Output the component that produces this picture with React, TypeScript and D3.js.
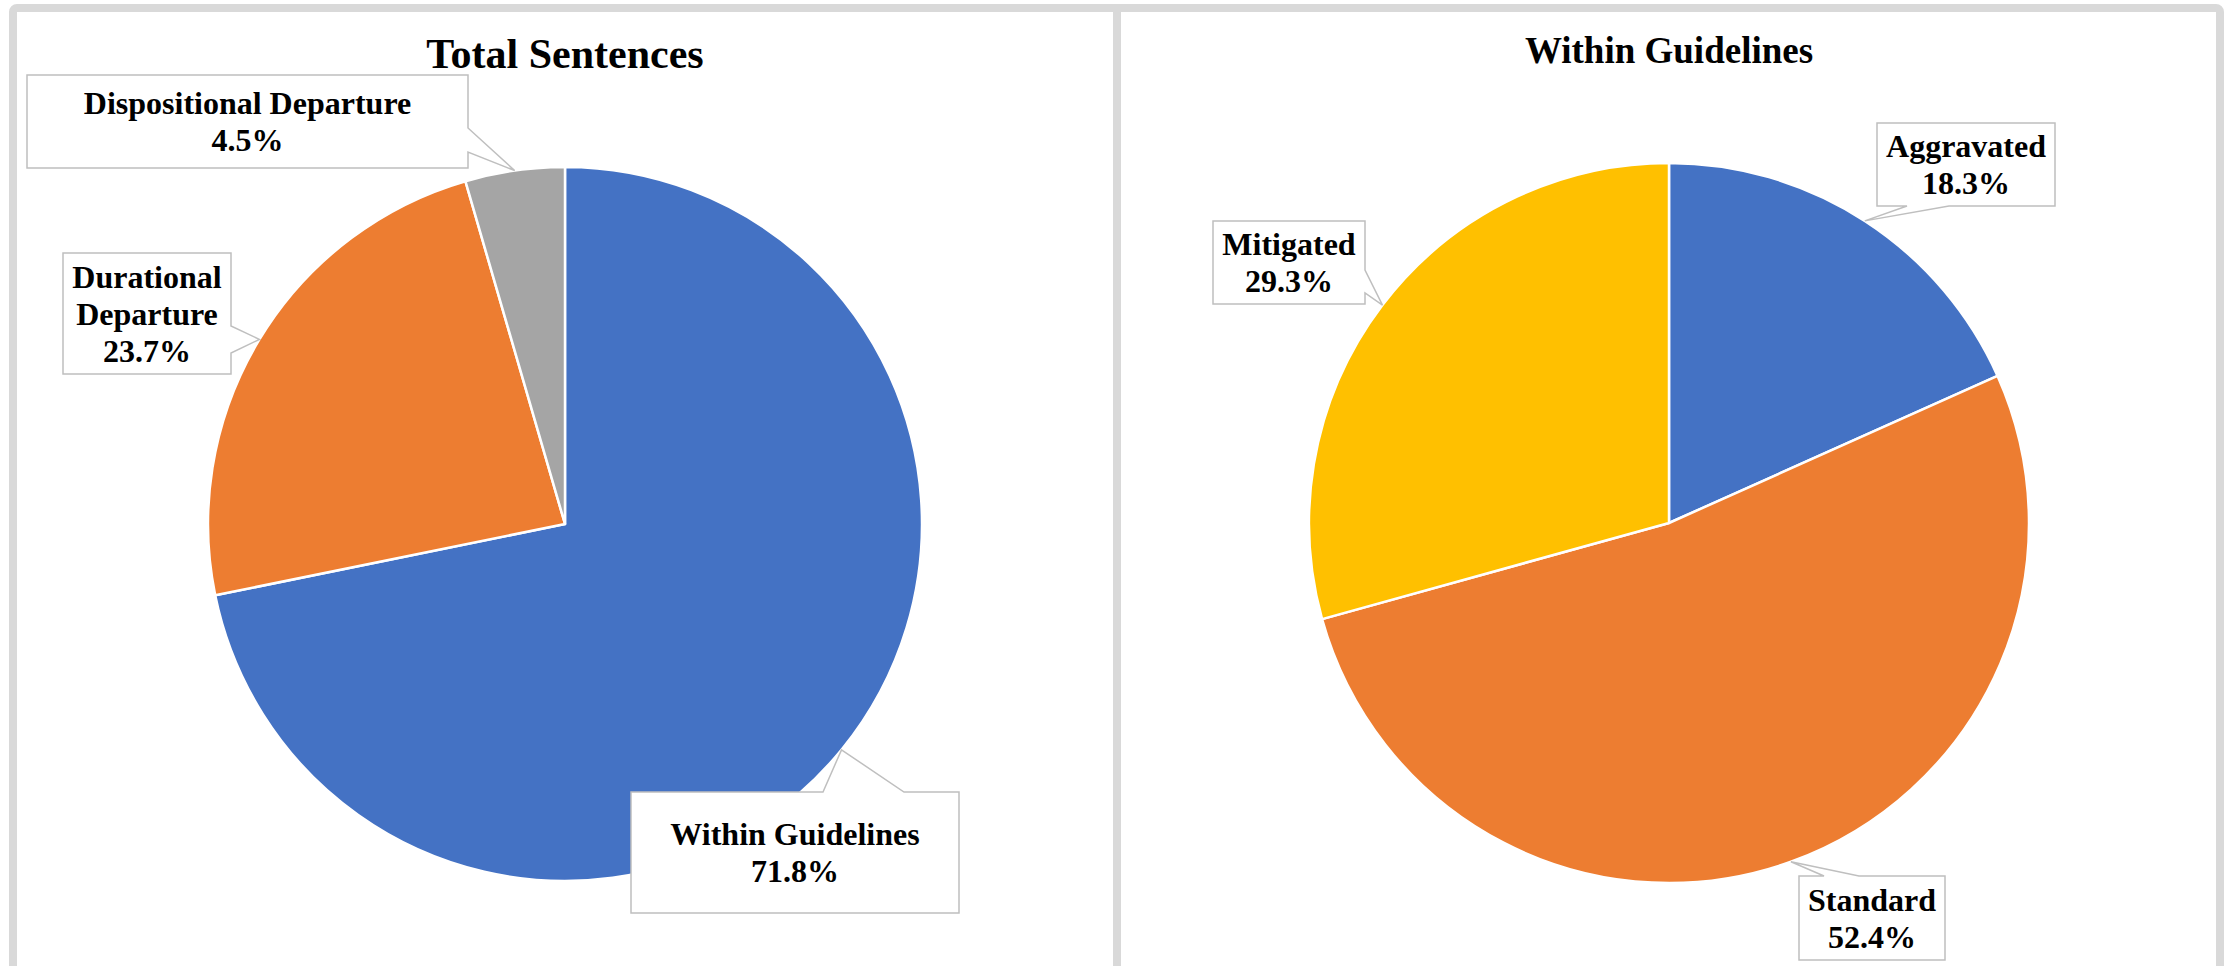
import React from 'react';
import * as d3 from 'd3';

// chart data
const totalCategories = ['Within Guidelines', 'Durational Departure', 'Dispositional Departure'];
const totalValues = [71.8, 23.7, 4.5];
const totalColors = ['#4472C4', '#ED7D31', '#A5A5A5'];

const withinCategories = ['Aggravated', 'Standard', 'Mitigated'];
const withinValues = [18.3, 52.4, 29.3];
const withinColors = ['#4472C4', '#ED7D31', '#FFC000'];

const WIDTH = 2233;
const HEIGHT = 966;
const FONT = '"Liberation Serif", "Times New Roman", serif';

type Side = 'top' | 'right' | 'bottom';
interface Callout {
  box: { x: number; y: number; w: number; h: number };
  side: Side;
  base: [number, number];
  wrap?: boolean;
}

// callout boxes (layout only, tips come from the arcs)
const totalCallouts: Callout[] = [
  { box: { x: 631, y: 792, w: 328, h: 121 }, side: 'top', base: [823, 904] },
  { box: { x: 63, y: 253, w: 168, h: 121 }, side: 'right', base: [326, 353], wrap: true },
  { box: { x: 27, y: 75, w: 441, h: 93 }, side: 'right', base: [128, 152] },
];
const withinCallouts: Callout[] = [
  { box: { x: 1877, y: 123, w: 178, h: 83 }, side: 'bottom', base: [1907, 1949] },
  { box: { x: 1799, y: 876, w: 146, h: 84 }, side: 'top', base: [1824, 1859] },
  { box: { x: 1213, y: 221, w: 152, h: 83 }, side: 'right', base: [270, 293] },
];

const calloutPath = (c: Callout, tip: [number, number]): string => {
  const { x, y, w, h } = c.box;
  const x1 = x + w;
  const y1 = y + h;
  const [a0, a1] = c.base;
  const [tx, ty] = tip;
  if (c.side === 'top') {
    return `M${x},${y}L${a0},${y}L${tx},${ty}L${a1},${y}L${x1},${y}L${x1},${y1}L${x},${y1}Z`;
  }
  if (c.side === 'right') {
    return `M${x},${y}L${x1},${y}L${x1},${a0}L${tx},${ty}L${x1},${a1}L${x1},${y1}L${x},${y1}Z`;
  }
  return `M${x},${y}L${x1},${y}L${x1},${y1}L${a1},${y1}L${tx},${ty}L${a0},${y1}L${x},${y1}Z`;
};

interface PieProps {
  categories: string[];
  values: number[];
  colors: string[];
  callouts: Callout[];
  cx: number;
  cy: number;
  radius: number;
  title: string;
  titleSize: number;
  titleY: number;
}

const PiePanel: React.FC<PieProps> = ({
  categories, values, colors, callouts, cx, cy, radius, title, titleSize, titleY
}) => {
  const pie = d3.pie<number>().sort(null).value(d => d);
  const arcs = pie(values);
  const arc = d3.arc<d3.PieArcDatum<number>>().innerRadius(0).outerRadius(radius);
  const edge = d3.arc<d3.PieArcDatum<number>>().innerRadius(radius).outerRadius(radius);
  const lineH = 37;

  return (
    <g>
      <text x={cx} y={titleY} textAnchor="middle" fontFamily={FONT} fontWeight="bold"
        fontSize={titleSize} fill="#000">{title}</text>
      <g transform={`translate(${cx},${cy})`}>
        {arcs.map((a, i) => (
          <path key={i} d={arc(a) || ''} fill={colors[i]} stroke="#fff" strokeWidth={2.5}
            strokeLinejoin="round" />
        ))}
      </g>
      {arcs.map((a, i) => {
        const c = callouts[i];
        const [ex, ey] = edge.centroid(a);
        const tip: [number, number] = [cx + ex, cy + ey];
        const name = categories[i];
        const lines = [...(c.wrap ? name.split(' ') : [name]), `${values[i].toFixed(1)}%`];
        const mx = c.box.x + c.box.w / 2;
        const my = c.box.y + c.box.h / 2;
        const first = my - ((lines.length - 1) * lineH) / 2 + 11;
        return (
          <g key={`c${i}`}>
            <path d={calloutPath(c, tip)} fill="#fff" stroke="#BFBFBF" strokeWidth={1.5} />
            {lines.map((l, j) => (
              <text key={j} x={mx} y={first + j * lineH} textAnchor="middle" fontFamily={FONT}
                fontWeight="bold" fontSize={32} fill="#000">{l}</text>
            ))}
          </g>
        );
      })}
    </g>
  );
};

export default function App() {
  return (
    <svg width={WIDTH} height={HEIGHT} style={{ position: 'absolute', left: 0, top: 0, display: 'block' }}>
      <rect x={0} y={0} width={WIDTH} height={HEIGHT} fill="#fff" />
      {/* frame */}
      <rect x={13} y={8} width={2207} height={1100} rx={4} fill="none" stroke="#D9D9D9" strokeWidth={8} />
      <line x1={1117} y1={8} x2={1117} y2={HEIGHT} stroke="#D9D9D9" strokeWidth={8} />
      <PiePanel
        categories={totalCategories}
        values={totalValues}
        colors={totalColors}
        callouts={totalCallouts}
        cx={565}
        cy={524}
        radius={357}
        title="Total Sentences"
        titleSize={42}
        titleY={68}
      />
      <PiePanel
        categories={withinCategories}
        values={withinValues}
        colors={withinColors}
        callouts={withinCallouts}
        cx={1669}
        cy={523}
        radius={360}
        title="Within Guidelines"
        titleSize={37}
        titleY={63}
      />
    </svg>
  );
}
